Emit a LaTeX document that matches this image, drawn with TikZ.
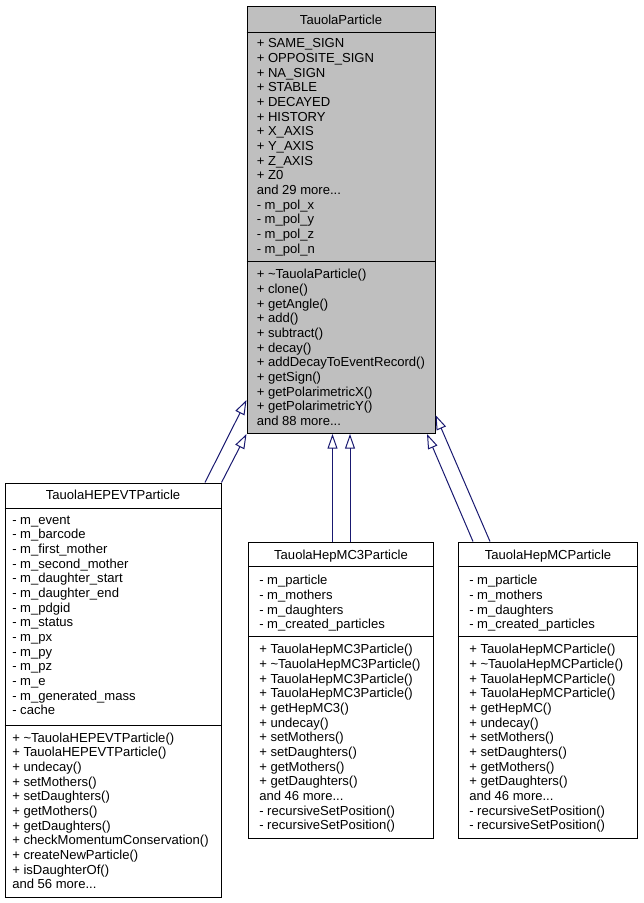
\documentclass[tikz,border=0pt]{standalone}
\usepackage{fontspec}
\setmainfont{Liberation Sans}
\usepackage{tikz}
\usetikzlibrary{arrows.meta, fit}
\definecolor{edgeblue}{HTML}{191970}
\definecolor{boxgray}{HTML}{BFBFBF}
\tikzset{
  classbox/.style={draw, inner sep=0pt, line width=0.75pt},
  classname/.style={anchor=base, inner sep=0pt, font=\fontsize{9.8}{11}\selectfont},
  members/.style={anchor=north west, inner sep=0pt, align=left, font=\fontsize{9.8}{11}\selectfont, execute at begin node=\strut},
  inherit/.style={draw=edgeblue, line width=0.75pt, -{Triangle[open, length=11pt, width=7.5pt]}}
}

\begin{document}
\begin{tikzpicture}[x=0.75pt, y=-0.75pt]
\useasboundingbox (0,0) rectangle (643,903);

% base class
\node[classbox, fill=boxgray, fit={(247,6) (435,433.5)}] (tp) {};
\draw[line width=0.75pt] (tp.west |- 0,32) -- (tp.east |- 0,32);
\draw[line width=0.75pt] (tp.west |- 0,261.5) -- (tp.east |- 0,261.5);
\node[classname] (tpname) at (341,24.3) {TauolaParticle};
\node[members] (tpattr) at (256.5,38.6) {+ SAME\_SIGN\\+ OPPOSITE\_SIGN\\+ NA\_SIGN\\+ STABLE\\+ DECAYED\\+ HISTORY\\+ X\_AXIS\\+ Y\_AXIS\\+ Z\_AXIS\\+ Z0\\and 29 more...\\- m\_pol\_x\\- m\_pol\_y\\- m\_pol\_z\\- m\_pol\_n};
\node[members] (tpops) at (256.5,269) {+ \textasciitilde TauolaParticle()\\+ clone()\\+ getAngle()\\+ add()\\+ subtract()\\+ decay()\\+ addDecayToEventRecord()\\+ getSign()\\+ getPolarimetricX()\\+ getPolarimetricY()\\and 88 more...};

% HEPEVT
\node[classbox, fit={(5,483) (221,897)}] (hepevt) {};
\draw[line width=0.75pt] (hepevt.west |- 0,508.5) -- (hepevt.east |- 0,508.5);
\draw[line width=0.75pt] (hepevt.west |- 0,725) -- (hepevt.east |- 0,725);
\node[classname] (hepevtname) at (113,499.3) {TauolaHEPEVTParticle};
\node[members] (hepevtattr) at (12,515.5) {- m\_event\\- m\_barcode\\- m\_first\_mother\\- m\_second\_mother\\- m\_daughter\_start\\- m\_daughter\_end\\- m\_pdgid\\- m\_status\\- m\_px\\- m\_py\\- m\_pz\\- m\_e\\- m\_generated\_mass\\- cache};
\node[members] (hepevtops) at (12,732.4) {+ \textasciitilde TauolaHEPEVTParticle()\\+ TauolaHEPEVTParticle()\\+ undecay()\\+ setMothers()\\+ setDaughters()\\+ getMothers()\\+ getDaughters()\\+ checkMomentumConservation()\\+ createNewParticle()\\+ isDaughterOf()\\and 56 more...};

% HepMC3
\node[classbox, fit={(248.5,542) (433.5,838)}] (hepmc3) {};
\draw[line width=0.75pt] (hepmc3.west |- 0,566) -- (hepmc3.east |- 0,566);
\draw[line width=0.75pt] (hepmc3.west |- 0,636) -- (hepmc3.east |- 0,636);
\node[classname] (hepmc3name) at (341,559.3) {TauolaHepMC3Particle};
\node[members] (hepmc3attr) at (259,575) {- m\_particle\\- m\_mothers\\- m\_daughters\\- m\_created\_particles};
\node[members] (hepmc3ops) at (259,644) {+ TauolaHepMC3Particle()\\+ \textasciitilde TauolaHepMC3Particle()\\+ TauolaHepMC3Particle()\\+ TauolaHepMC3Particle()\\+ getHepMC3()\\+ undecay()\\+ setMothers()\\+ setDaughters()\\+ getMothers()\\+ getDaughters()\\and 46 more...\\- recursiveSetPosition()\\- recursiveSetPosition()};

% HepMC
\node[classbox, fit={(458,542) (637.5,838)}] (hepmc) {};
\draw[line width=0.75pt] (hepmc.west |- 0,566) -- (hepmc.east |- 0,566);
\draw[line width=0.75pt] (hepmc.west |- 0,636) -- (hepmc.east |- 0,636);
\node[classname] (hepmcname) at (548,559.3) {TauolaHepMCParticle};
\node[members] (hepmcattr) at (469,575) {- m\_particle\\- m\_mothers\\- m\_daughters\\- m\_created\_particles};
\node[members] (hepmcops) at (469,644) {+ TauolaHepMCParticle()\\+ \textasciitilde TauolaHepMCParticle()\\+ TauolaHepMCParticle()\\+ TauolaHepMCParticle()\\+ getHepMC()\\+ undecay()\\+ setMothers()\\+ setDaughters()\\+ getMothers()\\+ getDaughters()\\and 46 more...\\- recursiveSetPosition()\\- recursiveSetPosition()};

% inheritance
\draw[inherit] (hepevt.north -| 205,0) -- (tp.west |- 0,400);
\draw[inherit] (hepevt.north east) -- (tp.south west);
\draw[inherit] (hepmc3.north -| 332.5,0) -- (tp.south -| 332.5,0);
\draw[inherit] (hepmc3.north -| 350,0) -- (tp.south -| 350,0);
\draw[inherit] (hepmc.north -| 473,0) -- (tp.south -| 427,0);
\draw[inherit] (hepmc.north -| 490,0) -- (tp.east |- 0,415);
\end{tikzpicture}
\end{document}
